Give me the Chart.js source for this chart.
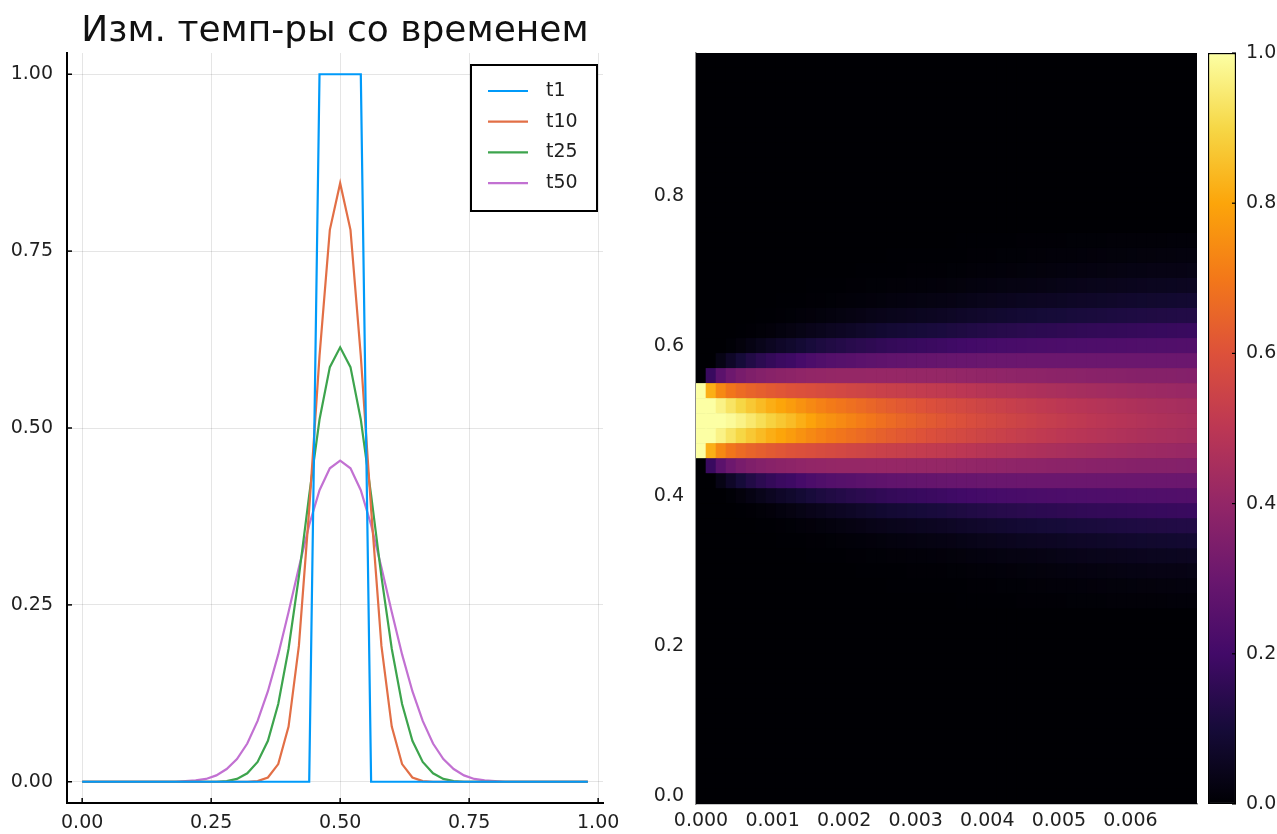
<!DOCTYPE html>
<html>
<head>
<meta charset="utf-8">
<title>Изм. темп-ры со временем</title>
<script src="https://cdn.jsdelivr.net/npm/chart.js@4.4.1/dist/chart.umd.min.js"></script>
<style>
  html, body { margin: 0; padding: 0; background: #fff; }
  #wrap { position: relative; width: 1277px; height: 834px; overflow: hidden; }
  canvas { position: absolute; top: 0; }
  #lineChart { left: 0; }
  #heatChart { left: 640px; }
  #cbarChart { left: 1200px; }
</style>
</head>
<body>
<div id="wrap">
  <canvas id="lineChart" width="640" height="834"></canvas>
  <canvas id="heatChart" width="560" height="834"></canvas>
  <canvas id="cbarChart" width="77" height="834"></canvas>
</div>
<script>
// Grid positions along the rod (x of the left panel, y rows of the heatmap)
const xPos = [0.00,0.02,0.04,0.06,0.08,0.10,0.12,0.14,0.16,0.18,
              0.20,0.22,0.24,0.26,0.28,0.30,0.32,0.34,0.36,0.38,
              0.40,0.42,0.44,0.46,0.48,0.50,0.52,0.54,0.56,0.58,
              0.60,0.62,0.64,0.66,0.68,0.70,0.72,0.74,0.76,0.78,
              0.80,0.82,0.84,0.86,0.88,0.90,0.92,0.94,0.96,0.98];

// Temperature profiles on the left panel
const t1  = [0,0,0,0,0,0,0,0,0,0,
             0,0,0,0,0,0,0,0,0,0,
             0,0,0,1,1,1,1,1,0,0,
             0,0,0,0,0,0,0,0,0,0,
             0,0,0,0,0,0,0,0,0,0];
const t10 = [0,0,0,0,0,0,0,0,0,0,
             0,0,0,0,0,0,0,0.001,0.006,0.025,
             0.078,0.192,0.385,0.602,0.780,0.846,0.780,0.602,0.385,0.192,
             0.078,0.025,0.006,0.001,0,0,0,0,0,0,
             0,0,0,0,0,0,0,0,0,0];
const t25 = [0,0,0,0,0,0,0,0,0,0,
             0,0,0,0,0.001,0.004,0.012,0.028,0.058,0.110,
             0.188,0.290,0.405,0.512,0.586,0.614,0.586,0.512,0.405,0.290,
             0.188,0.110,0.058,0.028,0.012,0.004,0.001,0,0,0,
             0,0,0,0,0,0,0,0,0,0];
const t50 = [0,0,0,0,0,0,0,0,0,0,
             0.001,0.002,0.004,0.009,0.018,0.032,0.054,0.086,0.128,0.180,
             0.240,0.303,0.363,0.412,0.443,0.454,0.443,0.412,0.363,0.303,
             0.240,0.180,0.128,0.086,0.054,0.032,0.018,0.009,0.004,0.002,
             0.001,0,0,0,0,0,0,0,0,0];

const seriesNames  = ['t1', 't10', 't25', 't50'];
const lineXTicks   = [0, 0.25, 0.5, 0.75, 1.0];
const lineYTicks   = [0, 0.25, 0.5, 0.75, 1.0];

// Heatmap: time steps (columns)
const timeSteps = [0.00000,0.00014,0.00028,0.00042,0.00056,0.00070,0.00084,0.00098,0.00112,0.00126,
                   0.00140,0.00154,0.00168,0.00182,0.00196,0.00210,0.00224,0.00238,0.00252,0.00266,
                   0.00280,0.00294,0.00308,0.00322,0.00336,0.00350,0.00364,0.00378,0.00392,0.00406,
                   0.00420,0.00434,0.00448,0.00462,0.00476,0.00490,0.00504,0.00518,0.00532,0.00546,
                   0.00560,0.00574,0.00588,0.00602,0.00616,0.00630,0.00644,0.00658,0.00672,0.00686];

// Each column: temperature from the centre row (x = 0.50) outwards, same both sides.
// Rows further out than listed are 0.
const heatHalf = [
  [1,1,1,0,0,0,0,0,0,0,0,0,0],
  [1,1,0.82,0.18,0,0,0,0,0,0,0,0,0],
  [1,0.968,0.737,0.263,0.032,0,0,0,0,0,0,0,0],
  [0.988,0.932,0.693,0.307,0.068,0.006,0,0,0,0,0,0,0],
  [0.968,0.899,0.667,0.333,0.100,0.016,0.001,0,0,0,0,0,0],
  [0.943,0.870,0.649,0.351,0.127,0.028,0.004,0,0,0,0,0,0],
  [0.917,0.843,0.635,0.364,0.150,0.041,0.007,0.001,0,0,0,0,0],
  [0.890,0.819,0.624,0.374,0.169,0.055,0.012,0.002,0,0,0,0,0],
  [0.867,0.799,0.613,0.381,0.184,0.068,0.018,0.004,0.001,0,0,0,0],
  [0.846,0.780,0.602,0.385,0.192,0.078,0.025,0.006,0.001,0,0,0,0],
  [0.820,0.757,0.595,0.392,0.209,0.091,0.032,0.009,0.002,0,0,0,0],
  [0.795,0.737,0.588,0.398,0.225,0.104,0.039,0.012,0.003,0.001,0,0,0],
  [0.772,0.720,0.580,0.401,0.236,0.115,0.046,0.015,0.004,0.001,0,0,0],
  [0.755,0.705,0.573,0.403,0.244,0.124,0.053,0.019,0.006,0.001,0,0,0],
  [0.740,0.692,0.566,0.405,0.250,0.132,0.059,0.023,0.007,0.002,0,0,0],
  [0.724,0.679,0.559,0.406,0.256,0.140,0.065,0.027,0.009,0.003,0,0,0],
  [0.708,0.666,0.552,0.406,0.262,0.147,0.071,0.031,0.011,0.004,0.001,0,0],
  [0.694,0.654,0.545,0.407,0.267,0.154,0.078,0.035,0.013,0.005,0.001,0,0],
  [0.680,0.642,0.539,0.407,0.272,0.161,0.084,0.039,0.015,0.006,0.002,0,0],
  [0.667,0.631,0.533,0.407,0.277,0.168,0.090,0.043,0.018,0.007,0.002,0.001,0],
  [0.655,0.621,0.529,0.407,0.280,0.172,0.094,0.046,0.020,0.008,0.002,0.001,0],
  [0.644,0.612,0.525,0.406,0.283,0.176,0.098,0.049,0.022,0.009,0.003,0.001,0],
  [0.634,0.603,0.520,0.406,0.285,0.180,0.102,0.052,0.024,0.010,0.003,0.001,0],
  [0.624,0.594,0.516,0.405,0.288,0.184,0.106,0.055,0.026,0.011,0.004,0.001,0],
  [0.614,0.586,0.512,0.405,0.290,0.188,0.110,0.058,0.028,0.012,0.004,0.001,0],
  [0.604,0.577,0.506,0.403,0.292,0.193,0.115,0.062,0.031,0.014,0.005,0.002,0],
  [0.595,0.569,0.500,0.401,0.294,0.197,0.120,0.067,0.034,0.016,0.006,0.002,0.001],
  [0.586,0.561,0.495,0.398,0.296,0.202,0.125,0.071,0.038,0.018,0.008,0.003,0.001],
  [0.577,0.553,0.489,0.396,0.298,0.206,0.130,0.076,0.041,0.020,0.009,0.003,0.001],
  [0.568,0.545,0.484,0.394,0.299,0.210,0.135,0.080,0.044,0.022,0.010,0.004,0.002],
  [0.560,0.538,0.479,0.392,0.300,0.212,0.138,0.083,0.047,0.024,0.011,0.005,0.002],
  [0.553,0.532,0.475,0.390,0.301,0.215,0.141,0.086,0.049,0.026,0.012,0.006,0.002],
  [0.545,0.525,0.470,0.389,0.302,0.217,0.145,0.090,0.052,0.027,0.014,0.006,0.003],
  [0.538,0.518,0.466,0.387,0.302,0.220,0.148,0.093,0.054,0.029,0.015,0.007,0.003],
  [0.531,0.512,0.461,0.385,0.303,0.222,0.151,0.096,0.057,0.031,0.016,0.008,0.003],
  [0.525,0.507,0.457,0.383,0.303,0.224,0.153,0.099,0.059,0.033,0.017,0.009,0.004],
  [0.518,0.501,0.453,0.381,0.303,0.225,0.156,0.101,0.061,0.035,0.018,0.009,0.004],
  [0.512,0.496,0.449,0.380,0.303,0.227,0.158,0.104,0.064,0.037,0.020,0.010,0.005],
  [0.506,0.490,0.445,0.378,0.303,0.228,0.161,0.106,0.066,0.039,0.021,0.011,0.005],
  [0.500,0.485,0.441,0.376,0.303,0.230,0.163,0.109,0.068,0.041,0.022,0.012,0.006],
  [0.495,0.480,0.438,0.374,0.303,0.231,0.165,0.111,0.070,0.043,0.023,0.013,0.006],
  [0.490,0.475,0.434,0.372,0.303,0.232,0.167,0.114,0.072,0.044,0.025,0.014,0.007],
  [0.485,0.470,0.431,0.371,0.302,0.233,0.169,0.116,0.075,0.046,0.026,0.014,0.007],
  [0.480,0.466,0.427,0.369,0.302,0.234,0.171,0.119,0.077,0.047,0.028,0.015,0.008],
  [0.475,0.461,0.424,0.367,0.302,0.235,0.173,0.121,0.079,0.049,0.029,0.016,0.008],
  [0.471,0.457,0.422,0.366,0.302,0.236,0.174,0.122,0.080,0.050,0.030,0.016,0.008],
  [0.466,0.454,0.419,0.365,0.302,0.237,0.176,0.124,0.082,0.051,0.030,0.017,0.008],
  [0.462,0.450,0.417,0.365,0.303,0.238,0.177,0.125,0.083,0.052,0.031,0.017,0.009],
  [0.458,0.447,0.414,0.364,0.303,0.239,0.179,0.127,0.085,0.053,0.031,0.018,0.009],
  [0.454,0.443,0.412,0.363,0.303,0.240,0.180,0.128,0.086,0.054,0.032,0.018,0.009]
];

const heatXTicks = [0, 0.001, 0.002, 0.003, 0.004, 0.005, 0.006];
const heatYTicks = [0, 0.2, 0.4, 0.6, 0.8];
const cbarTicks  = [0, 0.2, 0.4, 0.6, 0.8, 1.0];

// ---- styling ----
const FONT = 'DejaVu Sans';
const TICK_FONT = { family: FONT, size: 19 };
const TICK_COLOR = '#1f1f1f';
const lineColors = ['#009af9', '#e26f46', '#3da44d', '#c271d2'];

const INFERNO = ['#000004','#160b39','#420a68','#6a176e','#932667','#bc3754',
                 '#dd513a','#f37819','#fca50a','#f6d746','#fcffa4'];

function hexRgb(h) {
  return [parseInt(h.slice(1, 3), 16), parseInt(h.slice(3, 5), 16), parseInt(h.slice(5, 7), 16)];
}

function inferno(v) {
  v = Math.min(1, Math.max(0, v));
  const p = v * (INFERNO.length - 1);
  const i = Math.min(INFERNO.length - 2, Math.floor(p));
  const f = p - i;
  const a = hexRgb(INFERNO[i]), b = hexRgb(INFERNO[i + 1]);
  const c = a.map((ch, n) => Math.round(ch + (b[n] - ch) * f));
  return `rgb(${c[0]},${c[1]},${c[2]})`;
}

// small inward tick marks, like the original plot
const innerTicks = {
  id: 'innerTicks',
  afterDraw(chart, args, opts) {
    const { ctx, chartArea: a } = chart;
    const len = opts.length || 5;
    ctx.save();
    ctx.strokeStyle = opts.color || '#000';
    ctx.lineWidth = opts.width || 1.5;
    (opts.axes || []).forEach(id => {
      const s = chart.scales[id];
      s.ticks.forEach(t => {
        const p = s.getPixelForValue(t.value);
        ctx.beginPath();
        if (s.isHorizontal()) {
          ctx.moveTo(p, a.bottom); ctx.lineTo(p, a.bottom - len);
        } else if (s.position === 'left') {
          ctx.moveTo(a.left, p); ctx.lineTo(a.left + len, p);
        } else {
          ctx.moveTo(a.right, p); ctx.lineTo(a.right - len, p);
        }
        ctx.stroke();
      });
    });
    ctx.restore();
  }
};

// dark backing under the heatmap cells so no light seams show between bars
const areaFill = {
  id: 'areaFill',
  beforeDatasetsDraw(chart, args, opts) {
    const { ctx, chartArea: a } = chart;
    ctx.save();
    ctx.fillStyle = opts.color || '#000';
    ctx.fillRect(a.left, a.top, a.right - a.left, a.bottom - a.top);
    ctx.restore();
  }
};

// framed legend in the top-right corner of the plot area
const boxLegend = {
  id: 'boxLegend',
  afterDraw(chart) {
    const { ctx, chartArea: a } = chart;
    const w = 126, h = 146;
    const x0 = a.right - 6 - w, y0 = a.top + 12;
    ctx.save();
    ctx.fillStyle = '#fff';
    ctx.fillRect(x0, y0, w, h);
    ctx.strokeStyle = '#000';
    ctx.lineWidth = 2;
    ctx.strokeRect(x0, y0, w, h);
    ctx.font = `19px "${FONT}"`;
    ctx.textBaseline = 'middle';
    ctx.textAlign = 'left';
    chart.data.datasets.forEach((ds, i) => {
      const y = y0 + 26 + i * 30.7;
      ctx.strokeStyle = ds.borderColor;
      ctx.lineWidth = 2.2;
      ctx.beginPath();
      ctx.moveTo(x0 + 17, y); ctx.lineTo(x0 + 57, y);
      ctx.stroke();
      ctx.fillStyle = '#1f1f1f';
      ctx.fillText(ds.label, x0 + 75, y);
    });
    ctx.restore();
  }
};

function fixedTicks(values) {
  return axis => { axis.ticks = values.map(v => ({ value: v })); };
}

// ---- left: temperature profiles ----
const profiles = [t1, t10, t25, t50];

new Chart(document.getElementById('lineChart'), {
  type: 'line',
  data: {
    datasets: profiles.map((p, i) => ({
      label: seriesNames[i],
      data: xPos.map((x, k) => ({ x, y: p[k] })),
      borderColor: lineColors[i],
      borderWidth: 2.2,
      pointRadius: 0,
      tension: 0,
      fill: false,
    }))
  },
  options: {
    responsive: false,
    animation: false,
    layout: { padding: { right: 37 } },
    plugins: {
      legend: { display: false },
      tooltip: { enabled: false },
      title: {
        display: true,
        fullSize: false,
        text: 'Изм. темп-ры со временем',
        color: '#111',
        font: { family: FONT, size: 36, weight: 'normal', lineHeight: 1.1 },
        padding: { top: 12, bottom: 1.4 },
      },
      innerTicks: { axes: ['x', 'y'], length: 5, width: 1.5 },
    },
    scales: {
      x: {
        type: 'linear',
        min: -0.0294, max: 1.0094,
        afterBuildTicks: fixedTicks(lineXTicks),
        afterFit: s => { s.height = 31; },
        grid: { color: 'rgba(0,0,0,0.1)', lineWidth: 1, drawTicks: false },
        border: { display: true, color: '#000', width: 2 },
        ticks: { font: TICK_FONT, color: TICK_COLOR, padding: 9, maxRotation: 0,
                 callback: v => v.toFixed(2) },
      },
      y: {
        type: 'linear',
        min: -0.03, max: 1.03,
        afterBuildTicks: fixedTicks(lineYTicks),
        afterFit: s => { s.width = 67; },
        grid: { color: 'rgba(0,0,0,0.1)', lineWidth: 1, drawTicks: false },
        border: { display: true, color: '#000', width: 2 },
        ticks: { font: TICK_FONT, color: TICK_COLOR, padding: 14,
                 callback: v => v.toFixed(2) },
      }
    }
  },
  plugins: [innerTicks, boxLegend]
});

// ---- right: heatmap of temperature over time ----
const centreRow = xPos.indexOf(0.5);
const cellH = xPos[1] - xPos[0];
const dt = timeSteps[1] - timeSteps[0];

const heatDatasets = xPos.map((yv, j) => {
  const off = Math.abs(j - centreRow);
  const vals = heatHalf.map(col => (off < col.length ? col[off] : 0));
  return {
    data: timeSteps.map(t => ({ x: t, y: [yv - cellH / 2, yv + cellH / 2] })),
    backgroundColor: vals.map(inferno),
    borderWidth: 0,
    barPercentage: 1,
    categoryPercentage: 1,
    grouped: false,
  };
});

new Chart(document.getElementById('heatChart'), {
  type: 'bar',
  data: { datasets: heatDatasets },
  options: {
    responsive: false,
    animation: false,
    layout: { padding: { top: 53, right: 3 } },
    plugins: {
      legend: { display: false },
      tooltip: { enabled: false },
      areaFill: { color: INFERNO[0] },
    },
    scales: {
      x: {
        type: 'linear',
        offset: false,
        min: timeSteps[0] - dt / 2,
        max: timeSteps[timeSteps.length - 1] + dt / 2,
        afterBuildTicks: fixedTicks(heatXTicks),
        afterFit: s => { s.height = 30; },
        grid: { display: false, drawTicks: false, offset: false },
        border: { display: true, color: '#8c8c8c', width: 1.5 },
        ticks: { font: TICK_FONT, color: TICK_COLOR, padding: 6, maxRotation: 0,
                 callback: v => v.toFixed(3) },
        z: 1,
      },
      y: {
        type: 'linear',
        min: xPos[0] - cellH / 2,
        max: xPos[xPos.length - 1] + cellH / 2,
        afterBuildTicks: fixedTicks(heatYTicks),
        afterFit: s => { s.width = 56; },
        grid: { display: false, drawTicks: false },
        border: { display: true, color: '#8c8c8c', width: 1.5 },
        ticks: { font: TICK_FONT, color: TICK_COLOR, padding: 12,
                 callback: v => v.toFixed(1) },
        z: 1,
      }
    }
  },
  plugins: [areaFill]
});

// ---- colour bar ----
new Chart(document.getElementById('cbarChart'), {
  type: 'bar',
  data: {
    labels: [''],
    datasets: [{
      data: [[0, 1]],
      backgroundColor: ctx => {
        const area = ctx.chart.chartArea;
        if (!area) return INFERNO[0];
        const g = ctx.chart.ctx.createLinearGradient(0, area.bottom, 0, area.top);
        INFERNO.forEach((c, i) => g.addColorStop(i / (INFERNO.length - 1), c));
        return g;
      },
      borderColor: '#000',
      borderWidth: 1.5,
      borderSkipped: false,
      barPercentage: 1,
      categoryPercentage: 1,
    }]
  },
  options: {
    responsive: false,
    animation: false,
    layout: { padding: { top: 53, bottom: 30, left: 8 } },
    plugins: {
      legend: { display: false },
      tooltip: { enabled: false },
      innerTicks: { axes: ['y'], length: 4, width: 1.2 },
    },
    scales: {
      x: { display: false },
      y: {
        position: 'right',
        min: 0, max: 1,
        afterBuildTicks: fixedTicks(cbarTicks),
        afterFit: s => { s.width = 41; },
        grid: { display: false, drawTicks: false },
        border: { display: false },
        ticks: { font: TICK_FONT, color: TICK_COLOR, padding: 10,
                 callback: v => v.toFixed(1) },
      }
    }
  },
  plugins: [innerTicks]
});
</script>
</body>
</html>
